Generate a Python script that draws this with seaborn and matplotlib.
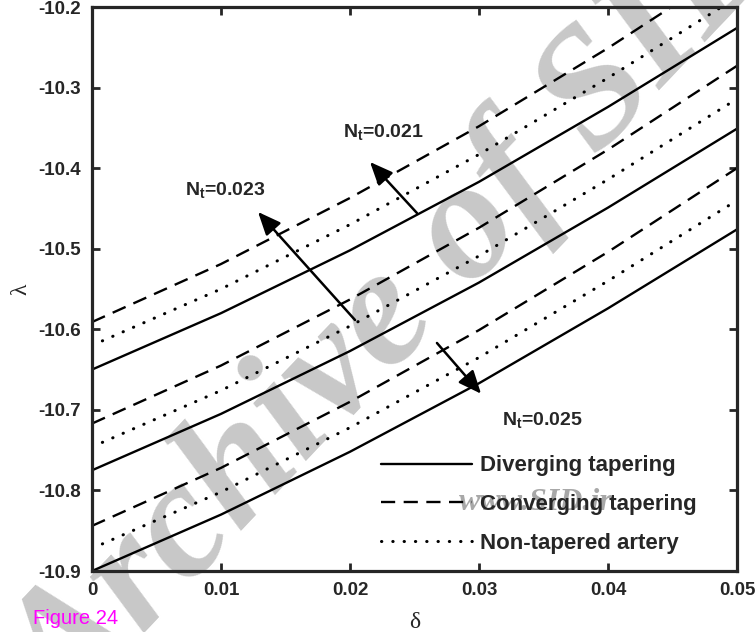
import matplotlib
matplotlib.use("Agg")
import matplotlib.pyplot as plt
from matplotlib.lines import Line2D
import pandas as pd
import seaborn as sns

# wall parameter delta
delta = [0.0, 0.01, 0.02, 0.03, 0.04, 0.05]

# lambda for N_t = 0.021
lam_div_021 = [-10.650, -10.580, -10.502, -10.417, -10.324, -10.226]
lam_con_021 = [-10.591, -10.519, -10.437, -10.348, -10.251, -10.147]
lam_non_021 = [-10.620, -10.550, -10.470, -10.383, -10.288, -10.188]
# lambda for N_t = 0.023
lam_div_023 = [-10.775, -10.705, -10.627, -10.542, -10.449, -10.351]
lam_con_023 = [-10.717, -10.645, -10.563, -10.474, -10.377, -10.273]
lam_non_023 = [-10.746, -10.676, -10.596, -10.509, -10.414, -10.314]
# lambda for N_t = 0.025
lam_div_025 = [-10.900, -10.830, -10.752, -10.667, -10.574, -10.476]
lam_con_025 = [-10.844, -10.772, -10.690, -10.601, -10.504, -10.400]
lam_non_025 = [-10.872, -10.802, -10.722, -10.635, -10.540, -10.440]

cases = ["Diverging tapering", "Converging tapering", "Non-tapered artery"]
nt_values = ["0.021", "0.023", "0.025"]
series = {
    ("0.021", cases[0]): lam_div_021, ("0.021", cases[1]): lam_con_021, ("0.021", cases[2]): lam_non_021,
    ("0.023", cases[0]): lam_div_023, ("0.023", cases[1]): lam_con_023, ("0.023", cases[2]): lam_non_023,
    ("0.025", cases[0]): lam_div_025, ("0.025", cases[1]): lam_con_025, ("0.025", cases[2]): lam_non_025,
}

xticks = [0, 0.01, 0.02, 0.03, 0.04, 0.05]
xticklabels = ["0", "0.01", "0.02", "0.03", "0.04", "0.05"]
yticks = [-10.9, -10.8, -10.7, -10.6, -10.5, -10.4, -10.3, -10.2]
yticklabels = ["-10.9", "-10.8", "-10.7", "-10.6", "-10.5", "-10.4", "-10.3", "-10.2"]

# arrow annotations: (label, label position, arrow tail, arrow head) in data units
notes = [
    ("0.021", (0.01946, -10.355), (0.02519, -10.4557), (0.02155, -10.3924)),
    ("0.023", (0.00721, -10.427), (0.02039, -10.5885), (0.01287, -10.4544)),
    ("0.025", (0.03178, -10.7126), (0.02674, -10.6170), (0.03016, -10.6800)),
]

sns.set_style("ticks")
plt.rcParams["font.family"] = ["Liberation Sans", "DejaVu Sans"]
plt.rcParams["mathtext.fontset"] = "custom"
plt.rcParams["mathtext.rm"] = "Liberation Sans:bold"
plt.rcParams["mathtext.it"] = "Liberation Sans:bold"
plt.rcParams["mathtext.bf"] = "Liberation Sans:bold"

lw = 1.7
styles = {
    cases[0]: dict(linestyle="-", lw=lw),
    cases[1]: dict(linestyle=(0, (6.0, 3.6)), dash_capstyle="butt", lw=lw),
    cases[2]: dict(linestyle=(0, (0.1, 3.6)), dash_capstyle="round", lw=2.2),
}

fig = plt.figure(figsize=(7.56, 6.32), dpi=100)
ax = fig.add_axes([92 / 756, 1 - 571 / 632, (737 - 92) / 756, (571 - 7) / 632])
ax.set_facecolor("none")
ax.set_zorder(1)

# watermark behind the curves
fig.text(400 / 756, 1 - 312 / 632, "Archive of SID", rotation=46.5, rotation_mode="anchor",
         ha="center", va="center", fontsize=122, color="#c8c8c8",
         family="Liberation Serif", weight="bold", style="italic", zorder=0)
fig.text(536 / 756, 1 - 503 / 632, "www.SID.ir", ha="center", va="center", fontsize=23,
         color="#a8a8a8", family="Liberation Serif", weight="bold", style="italic", zorder=0)

for nt in nt_values:
    for case in cases:
        df = pd.DataFrame({"delta": delta, "lam": series[(nt, case)]})
        sns.lineplot(data=df, x="delta", y="lam", ax=ax, color="black",
                     legend=False, sort=True, estimator=None, **styles[case])

for nt, lpos, tail, head in notes:
    ax.annotate("", xy=head, xytext=tail,
                arrowprops=dict(arrowstyle="-|>,head_length=0.7,head_width=0.3",
                                color="black", lw=1.8, shrinkA=0, shrinkB=0,
                                mutation_scale=20))
    ax.text(lpos[0], lpos[1], r"$\mathrm{N_t}$" + "=" + nt, fontsize=14,
            weight="bold", ha="left", va="center")

ax.set_xlim(0, 0.05)
ax.set_ylim(-10.9, -10.2)
ax.set_xticks(xticks)
ax.set_xticklabels(xticklabels)
ax.set_yticks(yticks)
ax.set_yticklabels(yticklabels)
ax.tick_params(direction="in", length=6, width=2, top=True, right=True,
               labelsize=13.5, pad=8)
for lab in ax.get_xticklabels() + ax.get_yticklabels():
    lab.set_fontweight("bold")
for sp in ax.spines.values():
    sp.set_visible(True)
    sp.set_linewidth(2.3)

ax.set_xlabel("δ", family="Liberation Serif", fontsize=17, labelpad=9)
ax.set_ylabel("λ", family="Liberation Serif", fontsize=17, labelpad=5)

handles = [Line2D([], [], color="black", **styles[c]) for c in cases]
leg = ax.legend(handles, cases, loc="upper left", bbox_to_anchor=(0.448, 0.205),
                frameon=False, fontsize=16, handlelength=4.1, handletextpad=0.35,
                labelspacing=0.80, borderpad=0, borderaxespad=0)
for t in leg.get_texts():
    t.set_fontweight("bold")

fig.text(33 / 756, 1 - 619 / 632, "Figure 24", color="#ff00ff", fontsize=14.5,
         ha="left", va="center")

fig.savefig("out.png", dpi=100)
